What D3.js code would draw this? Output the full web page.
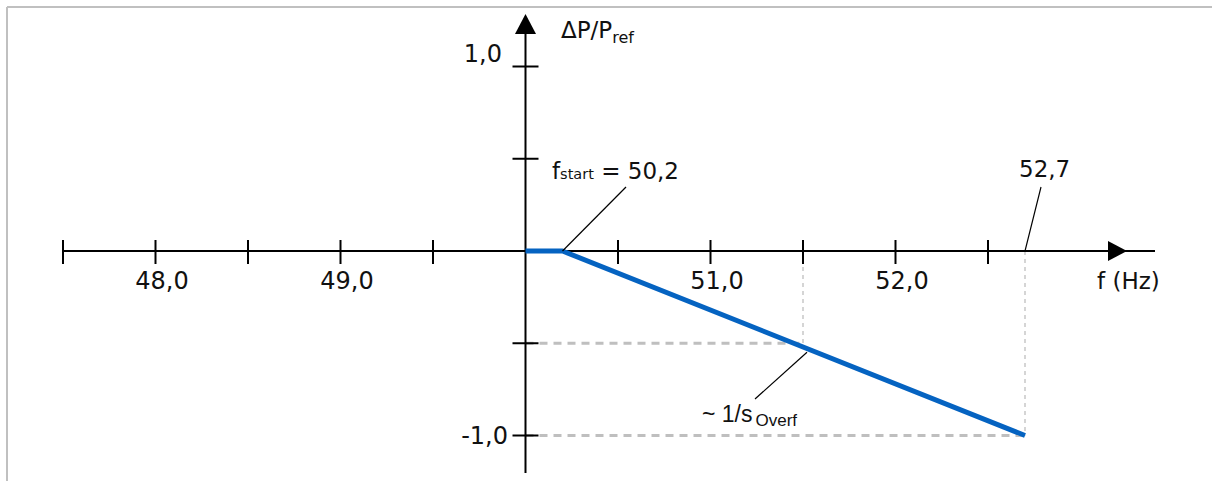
<!DOCTYPE html>
<html><head><meta charset="utf-8">
<script src="https://cdn.jsdelivr.net/npm/d3@7"></script>
<style>
html,body{margin:0;padding:0;background:#fff;}
svg{display:block;}
</style></head>
<body>
<script>
// ---- data ----
const xTicks = [47.5, 48.0, 48.5, 49.0, 49.5, 50.5, 51.0, 51.5, 52.0, 52.5];
const xTickLabels = ["48,0", "49,0", "51,0", "52,0"];
const xLabelValues = [48.0, 49.0, 51.0, 52.0];
const yTicks = [1.0, 0.5, -0.5, -1.0];
const yTickLabels = ["1,0", "-1,0"];
const yLabelValues = [1.0, -1.0];
const curveF = [50.0, 50.2, 52.7];
const curveP = [0, 0, -1.0];
const guideF = [51.5, 52.7];
const guideP = [-0.5, -1.0];

const W = 1212, H = 481;
const svg = d3.select("body").append("svg").attr("width", W).attr("height", H);

const x = d3.scaleLinear().domain([50, 51]).range([525.5, 710.5]);
const y = d3.scaleLinear().domain([0, 1]).range([251, 66.5]);

const font = "'DejaVu Sans', sans-serif";
const font2 = "'Liberation Sans', Arial, sans-serif";
const ink = "#111";

// frame
svg.append("line").attr("x1", 7).attr("x2", W).attr("y1", 7).attr("y2", 7).attr("stroke", "#c0c0c0").attr("stroke-width", 2);
svg.append("line").attr("x1", 7).attr("x2", 7).attr("y1", 7).attr("y2", H).attr("stroke", "#c0c0c0").attr("stroke-width", 2);

// guides
const g = svg.append("g");
guideF.forEach((f, i) => {
  g.append("line").attr("x1", x(50)).attr("x2", x(f)).attr("y1", y(guideP[i])).attr("y2", y(guideP[i]))
    .attr("stroke", "#bfbfbf").attr("stroke-width", 3).attr("stroke-dasharray", "8,6");
  g.append("line").attr("x1", x(f)).attr("x2", x(f)).attr("y1", y(0)).attr("y2", y(guideP[i]))
    .attr("stroke", "#bfbfbf").attr("stroke-width", 1.3).attr("stroke-dasharray", "4,4");
});

// axes
const ax = svg.append("g").attr("stroke", "#000").attr("stroke-width", 2);
ax.append("line").attr("x1", x(47.5)).attr("x2", 1155).attr("y1", y(0)).attr("y2", y(0));
ax.append("line").attr("x1", x(50)).attr("x2", x(50)).attr("y1", 473).attr("y2", 30);
xTicks.forEach(t => ax.append("line").attr("x1", x(t)).attr("x2", x(t)).attr("y1", y(0) - 11).attr("y2", y(0) + 13));
yTicks.forEach(t => ax.append("line").attr("x1", x(50) - 13).attr("x2", x(50) + 13).attr("y1", y(t)).attr("y2", y(t)));
// arrows
svg.append("path").attr("d", `M1108,${y(0)-10} L1127,${y(0)} L1108,${y(0)+10} Z`).attr("fill", "#000");
svg.append("path").attr("d", `M${x(50)-10.5},34 L${x(50)},14 L${x(50)+10.5},34 Z`).attr("fill", "#000");

// tick labels
xLabelValues.forEach((v, i) => {
  svg.append("text").attr("x", x(v) + 6.5).attr("y", 289).attr("text-anchor", "middle")
    .attr("font-family", font).attr("font-size", 24).attr("fill", ink).text(xTickLabels[i]);
});
svg.append("text").attr("x", 502).attr("y", 62).attr("text-anchor", "end")
  .attr("font-family", font).attr("font-size", 24).attr("fill", ink).text(yTickLabels[0]);
svg.append("text").attr("x", 508).attr("y", 444).attr("text-anchor", "end")
  .attr("font-family", font).attr("font-size", 24).attr("fill", ink).text(yTickLabels[1]);

// curve
const pts = curveF.map((f, i) => [x(f), y(curveP[i])]);
svg.append("path").attr("d", d3.line()(pts)).attr("fill", "none").attr("stroke", "#0563c1")
  .attr("stroke-width", 5).attr("stroke-linejoin", "round");

// axis titles
const t1 = svg.append("text").attr("x", 561).attr("y", 38).attr("font-family", font).attr("font-size", 23).attr("fill", ink);
t1.append("tspan").text("ΔP/P");
t1.append("tspan").attr("dy", 5).attr("font-size", 16).text("ref");
svg.append("text").attr("x", 1097).attr("y", 289).attr("font-family", font).attr("font-size", 23).attr("fill", ink).text("f (Hz)");

// annotations
const ann = svg.append("g").attr("stroke", "#000").attr("stroke-width", 1.2);
ann.append("line").attr("x1", x(50.2)).attr("y1", y(0)).attr("x2", 626).attr("y2", 187);
ann.append("line").attr("x1", x(52.7)).attr("y1", y(0)).attr("x2", 1041).attr("y2", 187);
ann.append("line").attr("x1", x(51.5) + 4).attr("y1", y(-0.5) + 9).attr("x2", 755).attr("y2", 399);

const t2 = svg.append("text").attr("x", 552).attr("y", 179).attr("font-family", font).attr("font-size", 23).attr("fill", ink);
t2.append("tspan").text("f");
t2.append("tspan").attr("font-size", 14.5).text("start");
t2.append("tspan").text(" = 50,2");

svg.append("text").attr("x", 1019).attr("y", 177).attr("font-family", font).attr("font-size", 23).attr("fill", ink).text("52,7");

const t3 = svg.append("text").attr("x", 702).attr("y", 422).attr("font-family", font2).attr("font-size", 23).attr("fill", ink);
t3.append("tspan").text("~ 1/s");
t3.append("tspan").attr("dx", 3).attr("dy", 4).attr("font-size", 17).text("Overf");
</script>
</body></html>
